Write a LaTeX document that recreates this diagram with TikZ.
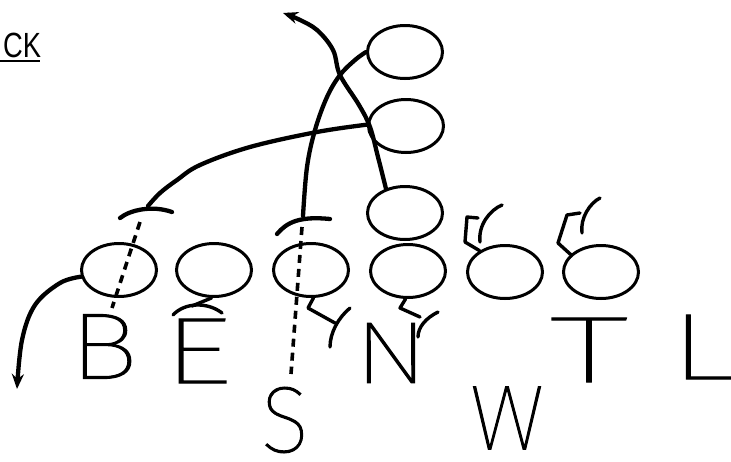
\documentclass[tikz,border=0pt]{standalone}
\usepackage{fontspec}
\newfontfamily\hand[FakeBold=1.2]{Fira Sans Thin}
\newfontfamily\lab{Liberation Sans}
\usetikzlibrary{arrows.meta,shapes.geometric}
\tikzset{
  player/.style={draw, ellipse, line width=3pt, minimum width=75pt, minimum height=53pt, inner sep=0pt},
  route/.style={line width=4.3pt, line cap=round, line join=round},
  blockmark/.style={line width=3.4pt, line cap=round, line join=round},
  dashroute/.style={line width=3.6pt, dash pattern=on 8pt off 6pt},
  tip/.style={-{Stealth[length=15pt,width=12pt]}},
  letter/.style={inner sep=0pt, font=\hand\fontsize{94}{94}\selectfont},
}
\begin{document}
\begin{tikzpicture}[x=1pt,y=-1pt]
\useasboundingbox (0,0) rectangle (731,461);
% header
\node[anchor=west, inner sep=0pt, font=\lab\fontsize{35}{35}\selectfont] (hdr) at (3,45) {\scalebox{0.78}[1]{CK}};
\coordinate (ul1) at (0,61);
\coordinate (ul2) at (40,61);
\draw[line width=2.4pt] (ul1) -- (ul2);
% line of scrimmage players
\node[player] (p1) at (119,270) {};
\node[player] (p2) at (214,270) {};
\node[player] (p3) at (311,270) {};
\node[player] (p4) at (408,271) {};
\node[player] (p5) at (505,272) {};
\node[player] (p6) at (601,272) {};
% backfield players
\node[player] (b1) at (405,52) {};
\node[player] (b2) at (406,126) {};
\node[player] (b3) at (405,213) {};
% letters
\node[letter] (lB) at (103.5,346.5) {\scalebox{1.25}[1]{B}};
\node[letter] (lE) at (197,351) {\scalebox{1.5}[1]{E}};
\node[letter] (lN) at (391,353) {\scalebox{1.2}[0.93]{N}};
\node[letter] (lT) at (589,350) {\scalebox{1.75}[1]{T}};
\node[letter] (lL) at (702,347) {\scalebox{1.55}[1]{L}};
\node[letter] (lS) at (285,420) {\scalebox{0.95}[1]{S}};
\node[letter] (lW) at (507,418) {\scalebox{1.0}[0.98]{W}};
% route from b3 up to the upper left with arrow
\coordinate (x1) at (340,75);
\coordinate (a1) at (283,13);
\draw[route,tip] plot[smooth, tension=0.6] coordinates {(b3.128) (378,157) (370,127) (359,105) (x1) (333,50) (317,30) (298,19) (a1)};
% route from b1 down to S-bar
\coordinate (t2) at (303,216);
\draw[route] plot[smooth, tension=0.6] coordinates {(b1.180) (355,60) (x1) (327,97) (315,130) (307,167) (t2)};
\coordinate (t2l) at (277,234);
\coordinate (t2r) at (330,219);
\draw[route] (t2l) .. controls (287,222) and (300,216) .. (t2r);
% route from b2 to left bar
\coordinate (t3) at (148,206);
\draw[route] plot[smooth, tension=0.6] coordinates {(b2.178) (317,132) (250,147) (200,165) (177,180) (160,193) (t3)};
\coordinate (t3l) at (120,218);
\coordinate (t3r) at (172,212);
\draw[route] (t3l) .. controls (130,210) and (152,205) .. (t3r);
% dashed routes
\coordinate (d1a) at (140,222);
\coordinate (d1b) at (112,308);
\draw[dashroute] (d1a) -- (d1b);
\coordinate (d2a) at (302,227);
\coordinate (d2b) at (291,374);
\draw[dashroute] (d2a) -- (d2b);
% left player arrow
\coordinate (a4) at (17,389);
\draw[route,tip] plot[smooth, tension=0.6] coordinates {(p1.190) (60,283) (35,305) (22,340) (a4)};
% block marks
\coordinate (e1) at (192,306);
\draw[blockmark] (p2.265) -- (e1);
\coordinate (e2) at (173,315);
\coordinate (e3) at (222,313);
\draw[blockmark] (e2) .. controls (185,302) and (208,302) .. (e3);
\coordinate (f1) at (308,308);
\coordinate (f2) at (335,323);
\draw[blockmark] (p3.275) -- (f1) -- (f2);
\coordinate (f3) at (350,308);
\coordinate (f4) at (330,347);
\draw[blockmark] (f3) .. controls (338,318) and (330,333) .. (f4);
\coordinate (g1) at (400,308);
\coordinate (g2) at (420,317);
\draw[blockmark] (p4.265) -- (g1) -- (g2);
\coordinate (g3) at (438,312);
\coordinate (g4) at (418,337);
\draw[blockmark] (g3) .. controls (426,318) and (418,327) .. (g4);
\coordinate (h1) at (465,242);
\coordinate (h2) at (467,217);
\coordinate (h3) at (478,218);
\draw[blockmark] (p5.140) -- (h1) -- (h2) -- (h3);
\coordinate (h4) at (480,242);
\coordinate (h5) at (502,205);
\draw[blockmark] (h4) .. controls (478,225) and (490,210) .. (h5);
\coordinate (k1) at (558,243);
\coordinate (k2) at (567,215);
\coordinate (k3) at (580,213);
\draw[blockmark] (p6.150) -- (k1) -- (k2) -- (k3);
\coordinate (k4) at (582,233);
\coordinate (k5) at (600,198);
\draw[blockmark] (k4) .. controls (580,218) and (590,203) .. (k5);
\end{tikzpicture}
\end{document}
